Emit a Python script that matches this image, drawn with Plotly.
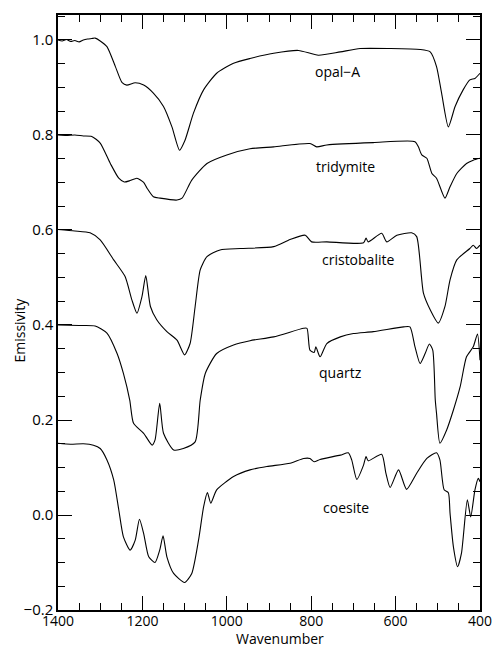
import plotly.graph_objects as go

# ---- data (wavenumber, emissivity) ----
opal_x = [1400, 1390, 1380, 1370, 1360, 1350, 1340, 1330, 1320, 1312, 1300, 1284, 1264, 1248, 1237, 1217, 1197, 1174, 1150, 1130, 1112, 1099, 1079, 1055, 1024, 984, 945, 889, 830, 783, 731, 684, 613, 542, 518, 503, 491, 475, 459, 440, 424, 412, 400]
opal_y = [1.000, 0.998, 1.001, 0.997, 0.999, 0.996, 1.000, 1.002, 1.003, 1.004, 0.998, 0.986, 0.944, 0.910, 0.905, 0.910, 0.905, 0.888, 0.860, 0.817, 0.768, 0.789, 0.846, 0.895, 0.930, 0.951, 0.961, 0.972, 0.978, 0.968, 0.975, 0.982, 0.982, 0.980, 0.975, 0.944, 0.888, 0.817, 0.860, 0.895, 0.916, 0.919, 0.930]

trid_x = [1400, 1380, 1360, 1340, 1320, 1300, 1276, 1256, 1243, 1229, 1213, 1197, 1189, 1174, 1158, 1118, 1106, 1083, 1047, 1000, 945, 889, 803, 787, 763, 653, 554, 546, 538, 526, 514, 503, 483, 471, 455, 432, 416, 400]
trid_y = [0.800, 0.799, 0.800, 0.798, 0.797, 0.783, 0.740, 0.709, 0.701, 0.704, 0.709, 0.700, 0.688, 0.670, 0.667, 0.663, 0.667, 0.705, 0.740, 0.758, 0.771, 0.775, 0.782, 0.775, 0.779, 0.784, 0.786, 0.775, 0.758, 0.751, 0.719, 0.709, 0.667, 0.691, 0.719, 0.740, 0.747, 0.751]

cris_x = [1400, 1360, 1324, 1300, 1268, 1241, 1225, 1213, 1201, 1192, 1181, 1166, 1142, 1118, 1100, 1087, 1075, 1063, 1047, 1016, 968, 889, 850, 814, 799, 763, 676, 670, 665, 633, 621, 597, 562, 550, 534, 518, 499, 483, 471, 455, 424, 416, 408, 400]
cris_y = [0.601, 0.598, 0.594, 0.579, 0.537, 0.502, 0.453, 0.425, 0.460, 0.504, 0.439, 0.411, 0.386, 0.368, 0.337, 0.361, 0.439, 0.516, 0.544, 0.558, 0.561, 0.565, 0.580, 0.589, 0.575, 0.575, 0.573, 0.583, 0.575, 0.593, 0.575, 0.589, 0.594, 0.586, 0.467, 0.432, 0.404, 0.439, 0.495, 0.537, 0.561, 0.568, 0.561, 0.568]

qtz_x = [1400, 1350, 1312, 1284, 1260, 1245, 1230, 1221, 1197, 1177, 1170, 1159, 1150, 1126, 1103, 1075, 1063, 1051, 1024, 984, 945, 889, 818, 810, 803, 793, 789, 779, 763, 731, 700, 653, 581, 566, 554, 542, 530, 520, 512, 506, 503, 495, 479, 463, 447, 432, 416, 406, 400]
qtz_y = [0.400, 0.399, 0.398, 0.383, 0.340, 0.298, 0.242, 0.193, 0.172, 0.147, 0.158, 0.235, 0.172, 0.137, 0.140, 0.154, 0.242, 0.298, 0.340, 0.358, 0.367, 0.375, 0.393, 0.393, 0.347, 0.342, 0.354, 0.333, 0.361, 0.375, 0.382, 0.386, 0.396, 0.396, 0.354, 0.319, 0.340, 0.360, 0.347, 0.242, 0.214, 0.151, 0.179, 0.221, 0.270, 0.333, 0.354, 0.381, 0.326]

coes_x = [1400, 1370, 1340, 1316, 1300, 1284, 1268, 1256, 1245, 1229, 1217, 1207, 1197, 1185, 1170, 1159, 1151, 1142, 1126, 1100, 1083, 1067, 1055, 1046, 1038, 1024, 984, 945, 905, 850, 818, 803, 793, 779, 731, 712, 704, 692, 676, 670, 665, 633, 623, 613, 593, 574, 550, 526, 503, 495, 485, 475, 471, 463, 453, 444, 430, 422, 412, 404, 400]
coes_y = [0.151, 0.149, 0.150, 0.147, 0.140, 0.116, 0.074, 0.011, -0.046, -0.074, -0.053, -0.009, -0.039, -0.088, -0.100, -0.074, -0.044, -0.088, -0.123, -0.142, -0.123, -0.053, 0.017, 0.047, 0.025, 0.053, 0.081, 0.095, 0.102, 0.109, 0.119, 0.119, 0.112, 0.117, 0.126, 0.131, 0.116, 0.075, 0.105, 0.123, 0.114, 0.128, 0.088, 0.058, 0.095, 0.054, 0.088, 0.119, 0.131, 0.116, 0.053, 0.047, 0.004, -0.067, -0.109, -0.081, 0.032, -0.004, 0.053, 0.077, 0.070]

label_text = ["opal\u2212A", "tridymite", "cristobalite", "quartz", "coesite"]
label_x = [738, 719, 688, 731, 717]
label_y = [0.933, 0.733, 0.537, 0.299, 0.015]

x_ticks = [1400, 1200, 1000, 800, 600, 400]
y_ticks = [-0.2, 0.0, 0.2, 0.4, 0.6, 0.8, 1.0]

FONT = "Open Sans, Liberation Sans, Arial, sans-serif"
W, H = 493, 649
ML, MR, MT, MB = 58, 13, 15, 39

fig = go.Figure()
for xs, ys in [(opal_x, opal_y), (trid_x, trid_y), (cris_x, cris_y), (qtz_x, qtz_y), (coes_x, coes_y)]:
    fig.add_trace(go.Scatter(x=xs, y=ys, mode="lines",
                             line=dict(color="black", width=1.1, shape="spline", smoothing=0.6),
                             showlegend=False, hoverinfo="skip"))

for t, x, y in zip(label_text, label_x, label_y):
    fig.add_annotation(x=x, y=y, text=t, showarrow=False,
                       font=dict(family=FONT, size=14, color="black"))

# axis titles placed as paper annotations (positions in px converted to paper fractions)
pw, ph = W - ML - MR, H - MT - MB
fig.add_annotation(xref="paper", yref="paper", x=(279.5 - ML) / pw, y=(H - MB - 649) / ph,
                   text="Wavenumber", showarrow=False, xanchor="center", yanchor="bottom",
                   borderpad=0, font=dict(family=FONT, size=14, color="black"))
fig.add_annotation(xref="paper", yref="paper", x=(18.5 - ML) / pw, y=(H - MB - 330) / ph,
                   text="Emissivity", showarrow=False, textangle=-90, xanchor="center", yanchor="middle",
                   borderpad=0, font=dict(family=FONT, size=14, color="black"))

fig.update_layout(
    width=W, height=H,
    margin=dict(l=ML, r=MR, t=MT, b=MB, autoexpand=False),
    paper_bgcolor="white", plot_bgcolor="white",
    font=dict(family=FONT, size=14, color="black"),
    showlegend=False,
)
fig.update_xaxes(
    automargin=False,
    range=[1400, 400], tickvals=x_ticks, ticktext=[f"{v:d}" for v in x_ticks],
    ticks="inside", ticklen=14, tickwidth=1, tickcolor="black",
    minor=dict(dtick=50, ticks="inside", ticklen=7, tickwidth=1, tickcolor="black", showgrid=False),
    showline=True, linecolor="black", linewidth=1.5, mirror="allticks",
    showgrid=False, zeroline=False,
    tickfont=dict(size=14), ticklabelstandoff=-3,
)
fig.update_yaxes(
    automargin=False,
    range=[-0.2, 1.0526], tickvals=y_ticks, ticktext=["\u22120.2", "0.0", "0.2", "0.4", "0.6", "0.8", "1.0"],
    ticks="inside", ticklen=14, tickwidth=1, tickcolor="black",
    minor=dict(dtick=0.05, tick0=0, ticks="inside", ticklen=7, tickwidth=1, tickcolor="black", showgrid=False),
    showline=True, linecolor="black", linewidth=1.5, mirror="allticks",
    showgrid=False, zeroline=False,
    tickfont=dict(size=15),
)

fig.write_html("out.html")
